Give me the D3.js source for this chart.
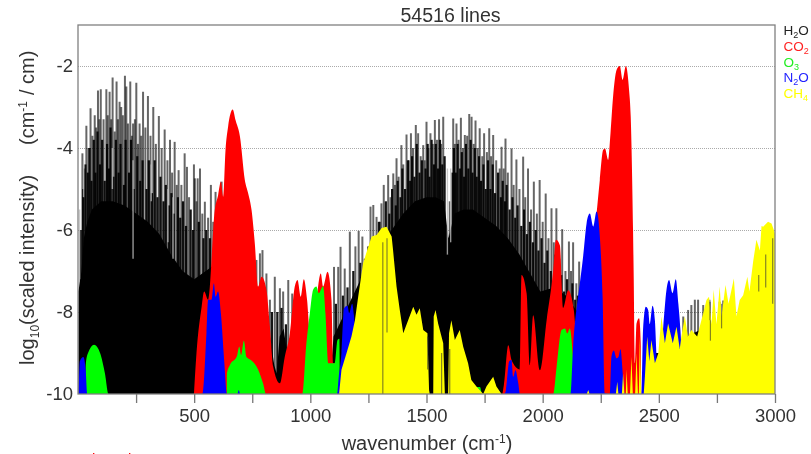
<!DOCTYPE html>
<html>
<head>
<meta charset="utf-8">
<script src="https://cdn.jsdelivr.net/npm/d3@7"></script>
<style>
  body { margin: 0; background: #fff; }
  text { font-family: "Liberation Sans", Arial, sans-serif; fill: #333; }
  .axis text { font-size: 18.5px; }
  .axis path { display: none; }
  .axis line { stroke: #777; stroke-width: 1.3; }
  .grid path { display: none; }
  .grid line { stroke: #aaa; stroke-width: 1; stroke-dasharray: 1 1; }
</style>
</head>
<body>
<svg id="thesvg" width="811" height="454"></svg>
<script>
'use strict';

// all values: wavenumber (cm-1) / log10 intensity

// water: single lines, the tall pale ones
var h2oLineWave = [19,36,54,72,86,98,122,136,149,166,179,186,202,208,225,237,251,265,280,301,324,348,373,396,416,433,459,469,499,503,515,525,546,572,592,618,
  768,783,794,811,826,847,869,883,905,922,1102,1120,1130,1148,1170,1194,1208,1224,
  1259,1271,1285,1306,1316,1335,1357,1371,1392,1414,1433,1454,1464,1486,1500,1517,1536,1554,1572,1615,1629,1648,1665,1684,1694,1711,1729,1748,1770,1787,1823,1840,1866,1887,1916,1937,1962,1987,2013,2038,2059,2084,2113,2131,2157,
  2605,2626,2640,2655,2669,2691,2719,2762,2777,2788,
  28,45,62,78,92,110,128,143,158,172,193,215,232,245,258,272,290,312,335,360,385,405,425,445,478,510,535,560,582,
  1300,1345,1364,1380,1400,1424,1442,1475,1492,1508,1527,1545,1563,1600,1622,1638,1657,1675,1703,1720,1740,1760,1778,1800,1815,1832,1850,1875,1900,1925,1950,1975,2000,2025,2048,2072,2098,2122,2145];
var h2oLineValue = [-4.13,-3.46,-3.03,-3.2,-2.6,-2.57,-2.57,-2.63,-2.28,-2.38,-2.87,-3,-2.24,-2.5,-2.38,-3.4,-2.41,-3.4,-2.63,-2.73,-3,-3.22,-3.55,-3.8,-3.85,-4.54,-4.13,-4.46,-4.4,-4.74,-4.74,-4.5,-5.31,-4.9,-5.07,-4.82,
  -6.73,-6.57,-6.49,-7.06,-7.7,-7.14,-7.42,-7.5,-7.22,-7.55,-6.9,-6.9,-6.41,-6.94,-6.04,-6.4,-6.02,-6.16,
  -5.43,-5.39,-5.68,-5.35,-4.9,-4.66,-4.62,-4.25,-3.93,-3.67,-3.64,-3.44,-3.64,-3.93,-3.36,-3.64,-3.32,-3.3,-3.24,-3.28,-3.4,-3.26,-3.68,-3.17,-3.24,-3.33,-3.52,-3.64,-3.52,-3.68,-3.97,-3.77,-4.01,-4.28,-4.21,-4.5,-4.82,-4.78,-5.11,-5.47,-5.47,-5.98,-6.28,-6.3,-6.77,
  -8.11,-7.95,-7.83,-7.7,-7.7,-7.83,-7.75,-7.75,-7.72,-7.8,
  -4.5,-4,-3.7,-3.5,-3.3,-3.3,-3.2,-3.3,-3.6,-3.3,-3.2,-3.4,-3.7,-3.3,-3.9,-3.7,-3.5,-3.7,-3.9,-4,-4.3,-4.6,-4.9,-4.9,-5.2,-5.3,-5.6,-5.7,-5.8,
  -5.8,-5.2,-4.9,-4.7,-4.4,-4.3,-4,-4.2,-4.3,-4,-3.9,-3.8,-3.9,-5.3,-3.9,-3.8,-4,-3.7,-3.9,-4,-4.2,-4.1,-4.2,-4.3,-4.5,-4.5,-4.6,-4.9,-5,-5.2,-5.5,-5.6,-5.8,-6.2,-6.3,-6.7,-7,-7,-7.3];

// water: shorter, darker lines between them
var h2oDarkWave = [12,22,32,42,50,58,68,75,84,95,104,115,125,133,140,153,163,175,183,198,205,220,228,240,255,268,278,295,305,318,330,342,355,368,378,392,402,412,430,440,452,465,485,495,520,540,552,568,590,605,
  775,800,835,858,876,895,1110,1140,1160,1185,1215,1235,
  1250,1280,1295,1312,1325,1340,1352,1368,1376,1388,1396,1408,1420,1430,1438,1448,1458,1470,1480,1496,1505,1513,1522,1532,1540,1550,1558,1568,1578,1612,1618,1626,1634,1645,1652,1662,1670,1680,1690,1698,1708,1716,1726,1735,1745,1755,1765,1775,1785,1795,1808,1820,1828,1838,1845,1858,1870,1882,1892,1908,1920,1932,1945,1958,1970,1982,1995,2008,2020,2035,2055,2065,2080,2092,2105,2118,2128,2140,2152];
var h2oDarkValue = [-6,-5,-4.4,-4.6,-4,-4.8,-3.8,-4.6,-3.6,-4.4,-3.8,-4.8,-3.9,-4.5,-3.5,-4.7,-3.8,-4.6,-3.9,-4.9,-3.8,-4.6,-3.8,-5,-4.2,-4.8,-4.3,-5,-4.3,-5.1,-4.3,-5.2,-4.7,-5.3,-4.9,-5.4,-5.1,-5.6,-5.2,-5.7,-5.3,-5.9,-5.5,-6,-5.8,-6.2,-6,-6.2,-6,-6.4,
  -7.4,-7.6,-8,-8,-7.9,-8.3,-7.8,-7.6,-7.4,-7,-6.8,-6.7,
  -6.4,-6.2,-5.8,-6,-5.3,-5.6,-5,-5.4,-4.8,-5.2,-4.5,-5,-4.3,-4.8,-4.2,-4.7,-3.9,-4.6,-4.3,-4.5,-3.9,-4.7,-3.8,-4.4,-3.9,-4.5,-3.8,-4.4,-4.2,-4.6,-4,-4.6,-3.9,-4.5,-4.1,-4.7,-3.9,-4.5,-3.8,-4.6,-4,-4.7,-4.2,-4.8,-4.4,-5,-4.3,-5,-4.4,-5.1,-4.6,-5.2,-4.8,-5.3,-4.9,-5.5,-5.2,-5.7,-5.4,-5.9,-5.5,-6.1,-5.8,-6.3,-6,-6.5,-6.2,-6.8,-6.5,-7,-6.6,-7.2,-7.1,-7.5,-7.2,-7.6,-7.3,-7.7,-7.6];

// water: solid black part under the lines
var h2oBaseWave = [2,15,25,40,60,100,150,200,250,300,350,400,450,500,550,600,650,750,800,826,845,855,868,885,900,920,950,1080,1100,1150,1200,1250,1300,1350,1400,1450,1500,1540,1575,1595,1620,1660,1700,1750,1800,1850,1900,1950,1990,2050,2100,2150,2200,2300,2430,2450,2600,2620,2690,2720,2800,2900,3000];
var h2oBaseValue = [-7.5,-7,-6.2,-5.8,-5.5,-5.3,-5.3,-5.4,-5.6,-5.8,-6.1,-6.6,-7,-7.2,-7,-6.8,-7,-7.5,-7.8,-8.6,-9.3,-9.5,-8.6,-8.4,-9,-9.6,-10,-10,-8.6,-8,-7.4,-6.8,-6.3,-6,-5.6,-5.3,-5.2,-5.2,-5.3,-6.2,-5.6,-5.5,-5.5,-5.7,-5.9,-6.2,-6.6,-7.1,-7.5,-7.4,-7.6,-8,-8.5,-10,-10,-9,-9,-8.6,-8.4,-9,-9.5,-9.5,-8.8];

// water: pale gaps in the black
var h2oGapWave = [7,24,148,237,315,387,409,1590,1604];
var h2oGapLow = [-7.2,-5.2,-5,-6.7,-5.3,-6.3,-6.7,-6.6,-6.3];
var h2oGapHigh = [-5.5,-4.3,-4,-4.3,-4.4,-5,-5.2,-4.5,-4.5];

// water lines that lie on top of the methane
var h2oOverWave = [1312,1330,1505,1565,1600,2722,2720,2770,2930,2990,2960];
var h2oOverLow = [-10,-8.5,-9.4,-10,-10,-8.7,-8.2,-8.4,-7.5,-7.8,-7.4];
var h2oOverHigh = [-6.3,-6.2,-8.6,-9,-8.9,-8.2,-7.7,-7.8,-7.1,-6.2,-6.6];

var co2Wave = [499,510,532,543,560,589,603,615,625,635,646,666,678,697,718,732,747,761,775,790,811,826,840,869,890,912,933,945,959,972,986,998,1020,1045,1055,1074,1091,1098,1112,1130,
  1825,1833,1852,1866,1902,1909,1931,1945,1959,1988,2017,2045,2057,2074,2088,2110,2134,2146,2232,2246,2260,2268,2282,2292,2303,2318,2332,2344,2358,2372,2379,2389,2392,2397,2404,2415,2422,2425];
var co2Value = [-10,-9,-7.88,-7.5,-7.7,-5.5,-5.15,-4.82,-5.19,-4.05,-3.48,-3.06,-3.32,-3.72,-4.78,-5.1,-5.51,-6.33,-7.38,-7.14,-7.46,-8.36,-9.33,-9.74,-9.09,-8.52,-7.38,-7.22,-7.63,-7.2,-7.71,-8.5,-8,-7.06,-7.38,-7.02,-7.7,-9.25,-9.25,-10,
  -10,-9.78,-8.81,-9.17,-9.4,-7.1,-7.55,-9.3,-8.08,-9.42,-8.2,-7,-6.24,-6.37,-7.9,-7.47,-7.95,-8.6,-5.6,-4.78,-4.05,-4.01,-4.29,-3.64,-2.75,-2.1,-2,-2.34,-2,-2.6,-3.24,-6,-7.2,-9.25,-8.28,-8.15,-8.76,-10];

var o3Wave = [30,34,44,69,95,116,132,640,641,654,684,694,702,714,725,748,775,797,809,965,983,998,1012,1026,1036,1055,1065,1077,1105,1117,1125,1128,1140,1700,1708,1730,1740,2045,2060,2081,2096,2106,2117,2129,2140];
var o3Value = [-10,-9.24,-8.99,-8.8,-9,-9.5,-10,-10,-9.5,-9.29,-9.08,-8.85,-9.05,-8.7,-9.1,-9.19,-9.4,-9.75,-10,-10,-8.76,-8.03,-7.46,-7.38,-7.54,-7.37,-8.03,-9.25,-9.25,-8.68,-8.65,-9.82,-10,-10,-9.83,-9.83,-10,-10,-9.34,-8.44,-8.4,-8.52,-8.4,-9,-10];

var n2oWave = [3,8,23,33,40,535,553,560,575,585,592,603,615,629,641,686,692,698,1115,1122,1134,1145,1160,1167,1180,1188,1200,1220,
  1835,1842,1856,1866,1873,1883,1895,1902,2120,2131,2153,2160,2174,2189,2203,2218,2232,2246,2258,2268,2289,2296,2306,2318,2326,2335,2346,2354,
  2425,2432,2444,2454,2461,2473,2483,2493,2504,2519,2533,2544,2559,2573,2584,2593,2605];
var n2oValue = [-10,-9.2,-9.1,-9.4,-10,-10,-8.5,-7.7,-7.7,-7.3,-7.63,-7.5,-8.03,-9.17,-10,-10,-9.9,-10,-10,-9.6,-9,-7.91,-7.85,-8.03,-7.8,-8.1,-9,-10,
  -10,-9.9,-9.2,-9.17,-9.58,-9.42,-9.74,-10,-10,-8.85,-7.6,-7.3,-6.65,-5.84,-5.6,-5.92,-5.55,-6.16,-7.63,-9.98,-10,-9.09,-8.94,-9.13,-9.1,-8.91,-9.58,-10,
  -10,-8.44,-7.87,-7.95,-8.3,-7.85,-8.2,-9.25,-9.25,-8.36,-7.46,-7.22,-7.54,-7.2,-7.8,-8.44,-10];

var ch4Wave = [1124,1134,1156,1177,1192,1206,1227,1245,1264,1285,1307,1328,1350,1356,1371,1385,1400,1421,1443,1457,1471,1486,1504,1511,1514,1529,1531,1539,1550,1572,1579,1593,1597,1607,1622,1643,1658,1679,1693,1715,1744,1758,1787,1801,1823,
  2190,2196,2202,2315,2321,2326,2341,2346,2352,2358,2361,2366,2376,2382,2388,2398,2404,2410,2414,2418,2424,2435,2440,2450,2459,2468,2483,2498,2511,2526,2540,2560,2576,2590,2597,2612,2625,2640,2665,2691,2705,2716,2727,2736,2748,2762,2770,2787,2800,2823,2834,2848,2863,2881,2890,2906,2920,2935,2942,2949,2970,2985,2995,3000];
var ch4Value = [-9.98,-9.41,-9,-8.6,-8.2,-7.63,-6.81,-6.49,-6.16,-6.12,-5.95,-5.92,-6.16,-6.49,-7.38,-7.95,-8.52,-8.2,-7.87,-8.07,-7.91,-8.44,-8.52,-9.9,-10,-10,-8.11,-7.95,-8.28,-8.76,-10,-10,-8.52,-8.2,-8.68,-8.44,-8.85,-9.25,-9.66,-9.82,-10,-9.82,-9.58,-9.82,-10,
  -10,-9.9,-10,-10,-9.7,-10,-10,-9.5,-10,-10,-9.4,-10,-10,-9.09,-10,-10,-9,-10,-10,-8.6,-10,-10,-9.58,-8.6,-9.2,-8.68,-9.25,-9,-8.11,-8.76,-8.28,-8.76,-8.36,-8.9,-8.6,-8.11,-8.6,-8.44,-8.6,-8.03,-7.71,-7.63,-8.3,-7.46,-8.3,-7.38,-8.1,-7.34,-7.8,-7.18,-8.11,-7.71,-7.59,-7.14,-7.5,-6.77,-6.24,-6.5,-5.9,-5.92,-5.8,-5.84,-6,-6.1];

var xTicks = [250,500,750,1000,1250,1500,1750,2000,2250,2500,2750,3000];
var yTicks = [-2,-4,-6,-8,-10];

var species = [
  {name: "H", sub: "2", rest: "O", color: "#222"},
  {name: "CO", sub: "2", rest: "", color: "#ff2222"},
  {name: "O", sub: "3", rest: "", color: "#22ee22"},
  {name: "N", sub: "2", rest: "O", color: "#2222ff"},
  {name: "CH", sub: "4", rest: "", color: "#ffff00"}
];

var svg = d3.select("#thesvg"),
    margin = {top: 25, right: 36, bottom: 60, left: 78},
    width = svg.attr("width") - margin.left - margin.right,
    height = svg.attr("height") - margin.top - margin.bottom,
    x = d3.scaleLinear().domain([0, 3000]).range([0, width]),
    y = d3.scaleLinear().domain([-10, -1]).range([height, 0]);

var defs = svg.append("defs");
defs.append("clipPath").attr("id", "plotclip").append("rect")
    .attr("width", width).attr("height", height);
defs.append("filter").attr("id", "soft").append("feGaussianBlur").attr("stdDeviation", 0.4);
defs.append("filter").attr("id", "softtext").append("feGaussianBlur").attr("stdDeviation", 0.3);

var g = svg.append("g")
    .attr("transform", "translate(" + margin.left + "," + margin.top + ")");

g.append("g")
    .attr("class", "grid")
    .call(d3.axisLeft(y).tickValues([-2, -4, -6, -8]).tickSize(-width).tickFormat(""));

var plot = g.append("g").attr("clip-path", "url(#plotclip)").append("g").attr("filter", "url(#soft)");

function drawArea(waves, values, color, curve) {
  var area = d3.area()
      .curve(curve)
      .x(function(d) { return x(d[0]); })
      .y0(y(-10))
      .y1(function(d) { return y(d[1]); });
  plot.append("path")
      .attr("d", area(d3.zip(waves, values)))
      .attr("fill", color);
}

function drawLines(waves, low, high, color, opacity, w) {
  plot.append("g").selectAll("line")
      .data(d3.zip(waves, low, high))
    .enter().append("line")
      .attr("x1", function(d) { return x(d[0]); })
      .attr("x2", function(d) { return x(d[0]); })
      .attr("y1", function(d) { return y(d[1]); })
      .attr("y2", function(d) { return y(d[2]); })
      .attr("stroke", color)
      .attr("stroke-opacity", opacity)
      .attr("stroke-width", w);
}

function floor(a) { return a.map(function() { return -10; }); }

// same order the molecules are listed in
drawArea(h2oBaseWave, h2oBaseValue, "#000", d3.curveLinear);
drawLines(h2oLineWave, floor(h2oLineWave), h2oLineValue, "#000", 0.6, 2);
drawLines(h2oDarkWave, floor(h2oDarkWave), h2oDarkValue, "#000", 0.92, 2.2);
drawLines(h2oGapWave, h2oGapLow, h2oGapHigh, "#bbb", 0.8, 1.4);
drawArea(co2Wave, co2Value, "#ff0000", d3.curveMonotoneX);
drawArea(o3Wave, o3Value, "#00ff00", d3.curveMonotoneX);
drawArea(n2oWave, n2oValue, "#0000ff", d3.curveMonotoneX);
drawArea(ch4Wave, ch4Value, "#ffff00", d3.curveLinear);
drawLines(h2oOverWave, h2oOverLow, h2oOverHigh, "#333", 0.6, 1.2);

// frame
g.append("rect")
    .attr("width", width).attr("height", height)
    .attr("fill", "none")
    .attr("stroke", "#808080")
    .attr("stroke-width", 1.3);

var labels = g.append("g").attr("filter", "url(#softtext)");

labels.append("g")
    .attr("class", "axis")
    .attr("transform", "translate(0," + height + ")")
    .call(d3.axisBottom(x).tickValues(xTicks).tickSize(9).tickPadding(6)
      .tickFormat(function(d) { return d % 500 === 0 ? String(d) : ""; }));

labels.append("g")
    .attr("class", "axis")
    .call(d3.axisLeft(y).tickValues(yTicks).tickSize(0).tickPadding(5)
      .tickFormat(function(d) { return String(d); }));

labels.append("text")
    .attr("x", 372.5).attr("y", -3.5)
    .attr("text-anchor", "middle")
    .style("font-size", "19.6px")
    .text("54516 lines");

// x title
var xt = labels.append("text")
    .attr("x", 349).attr("y", 425)
    .attr("text-anchor", "middle")
    .style("font-size", "20px");
xt.append("tspan").text("wavenumber (cm");
xt.append("tspan").attr("dy", -7).style("font-size", "12px").text("-1");
xt.append("tspan").attr("dy", 7).text(")");

// y title, two parts
var yt = labels.append("text")
    .attr("transform", "translate(-44,340) rotate(-90)")
    .style("font-size", "20px");
yt.append("tspan").text("log");
yt.append("tspan").attr("dy", 5).style("font-size", "12px").text("10");
yt.append("tspan").attr("dy", -5).text("(scaled intensity)");

var yt2 = labels.append("text")
    .attr("transform", "translate(-44,120) rotate(-90)")
    .style("font-size", "20px");
yt2.append("tspan").text("(cm");
yt2.append("tspan").attr("dy", -7).style("font-size", "12px").text("-1");
yt2.append("tspan").attr("dy", 7).attr("dx", 6).text("/ cm)");

// molecule names at the right edge
var legend = svg.append("g").attr("filter", "url(#softtext)");
species.forEach(function(d, i) {
  var t = legend.append("text")
      .attr("x", 783.5)
      .attr("y", 35 + i * 15.8)
      .style("font-size", "13.5px")
      .style("fill", d.color);
  t.append("tspan").text(d.name);
  t.append("tspan").attr("dy", 3).style("font-size", "9px").text(d.sub);
  if (d.rest) t.append("tspan").attr("dy", -3).text(d.rest);
});

// tops of red text cut off by the bottom of the picture
[["t", 62], ["l", 92], ["l", 128]].forEach(function(d) {
  svg.append("text")
      .attr("x", d[1]).attr("y", 464)
      .style("font-size", "15px")
      .style("fill", "#ff0000")
      .text(d[0]);
});
</script>
</body>
</html>
